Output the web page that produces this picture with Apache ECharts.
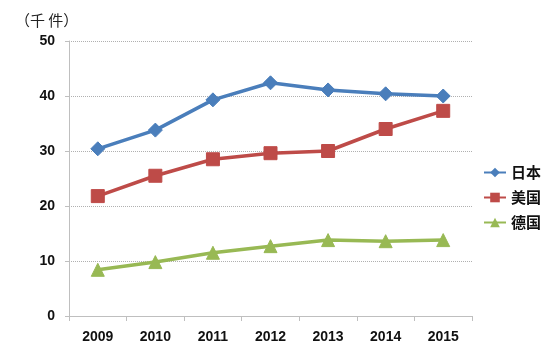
<!DOCTYPE html>
<html>
<head>
<meta charset="utf-8">
<script src="https://cdn.jsdelivr.net/npm/echarts@6/dist/echarts.min.js"></script>
<style>
  html, body { margin: 0; padding: 0; background: #fff; }
  #chart { width: 549px; height: 354px; }
</style>
</head>
<body>
<div id="chart"></div>
<script>
var years = ['2009', '2010', '2011', '2012', '2013', '2014', '2015'];
var japan = [30.4, 33.8, 39.3, 42.4, 41.1, 40.4, 40.0];
var usa = [21.8, 25.5, 28.5, 29.6, 30.0, 34.0, 37.3];
var germany = [8.4, 9.8, 11.5, 12.7, 13.8, 13.6, 13.8];

var chart = echarts.init(document.getElementById('chart'));

function mkSeries(name, data, color, symbol, size) {
    return {
        name: name,
        type: 'line',
        data: data,
        symbol: symbol,
        symbolSize: size,
        showAllSymbol: true,
        lineStyle: { color: color, width: 3.5 },
        itemStyle: { color: color, borderColor: color },
        emphasis: { disabled: true }
    };
}

var option = {
    animation: false,
    backgroundColor: '#fff',
    title: {
        text: '（千 件）',
        left: 10,
        top: 8,
        textStyle: { fontSize: 15, fontWeight: 'normal', color: '#222', fontFamily: 'Noto Sans CJK SC' }
    },
    legend: {
        orient: 'vertical',
        left: 478,
        top: 160,
        itemWidth: 22,
        itemHeight: 12,
        itemGap: 10,
        textStyle: { fontSize: 15, fontWeight: 'bold', color: '#111', fontFamily: 'Noto Sans CJK SC' },
        data: ['日本', '美国', '德国']
    },
    grid: { left: 69, right: 77, top: 41, bottom: 38 },
    xAxis: {
        type: 'category',
        data: years,
        boundaryGap: true,
        axisLine: { lineStyle: { color: '#bfbfbf' } },
        axisTick: { show: true, alignWithLabel: false, lineStyle: { color: '#bfbfbf' } },
        axisLabel: { fontSize: 14, fontWeight: 'bold', color: '#111', margin: 14, fontFamily: 'Liberation Sans' }
    },
    yAxis: {
        type: 'value',
        min: 0,
        max: 50,
        interval: 10,
        axisLine: { show: true, lineStyle: { color: '#bfbfbf' } },
        axisTick: { show: true, length: 4, lineStyle: { color: '#bfbfbf' } },
        axisLabel: { fontSize: 14, fontWeight: 'bold', color: '#111', margin: 14, fontFamily: 'Liberation Sans' },
        splitLine: { lineStyle: { color: '#b0b0b0', type: 'dotted' } }
    },
    series: [
        mkSeries('日本', japan, '#4a7ebb', 'diamond', 14),
        mkSeries('美国', usa, '#be4b48', 'rect', 13),
        mkSeries('德国', germany, '#98b954', 'triangle', 13)
    ]
};
chart.setOption(option);
</script>
</body>
</html>
